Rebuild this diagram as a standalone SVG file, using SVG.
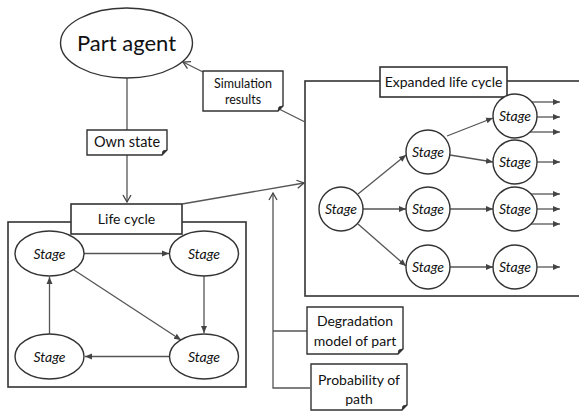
<svg xmlns="http://www.w3.org/2000/svg" width="579" height="412" viewBox="0 0 579 412">
  <defs>
    <marker id="arr" markerWidth="8" markerHeight="8" refX="7" refY="4" orient="auto" markerUnits="userSpaceOnUse">
      <path d="M0,1 L7,4 L0,7 Z" fill="#444"/>
    </marker>
    <marker id="arrOpen" markerWidth="10" markerHeight="10" refX="8" refY="5" orient="auto" markerUnits="userSpaceOnUse">
      <path d="M1,1 L8,5 L1,9" fill="none" stroke="#444" stroke-width="1.3"/>
    </marker>
  </defs>
  <style>
    .frame { fill: #fff; stroke: #333; stroke-width: 1.6; }
    .node { fill: #fff; stroke: #333; stroke-width: 1.4; }
    .link { fill: none; stroke: #555; stroke-width: 1.3; }
    .lbl { font-family: Lato, "Open Sans", "Liberation Sans", sans-serif; fill: #111; text-anchor: middle; }
    .stage { font-family: Lato, "Open Sans", "Liberation Sans", sans-serif; font-style: italic; font-size: 14px; fill: #111; text-anchor: middle; }
  </style>
  <rect width="579" height="412" fill="#fff"/>

  <!-- frames -->
  <g id="expanded-frame">
    <rect class="frame" x="305" y="81" width="280" height="215"/>
    <rect class="frame" x="380" y="67" width="127" height="30"/>
    <text class="lbl" x="443.5" y="87" font-size="14">Expanded life cycle</text>
  </g>
  <g id="lifecycle-frame">
    <rect class="frame" x="8" y="222" width="238" height="165"/>
    <rect class="frame" x="71" y="204" width="111" height="30"/>
    <text class="lbl" x="126.5" y="224" font-size="14">Life cycle</text>
  </g>

  <!-- connectors -->
  <g id="connectors">
    <line class="link" x1="127" y1="78" x2="127" y2="202" marker-end="url(#arrOpen)"/>
    <line class="link" x1="203" y1="72" x2="183" y2="62" marker-end="url(#arrOpen)"/>
    <line class="link" x1="279" y1="109" x2="305" y2="122"/>
    <line class="link" x1="182" y1="204" x2="304" y2="183" marker-end="url(#arrOpen)"/>
    <polyline class="link" points="310,388 273,388 273,193" marker-end="url(#arrOpen)"/>
    <line class="link" x1="273" y1="331" x2="307" y2="331"/>

    <!-- life cycle loop -->
    <line class="link" x1="84" y1="253.5" x2="169" y2="253.5" marker-end="url(#arr)"/>
    <line class="link" x1="204" y1="276" x2="204" y2="333" marker-end="url(#arr)"/>
    <line class="link" x1="170" y1="356.5" x2="85" y2="356.5" marker-end="url(#arr)"/>
    <line class="link" x1="49.5" y1="334" x2="49.5" y2="277" marker-end="url(#arr)"/>
    <line class="link" x1="74" y1="270" x2="181" y2="340" marker-end="url(#arr)"/>

    <!-- expanded tree -->
    <line class="link" x1="358" y1="194" x2="406" y2="155" marker-end="url(#arr)"/>
    <line class="link" x1="363" y1="209" x2="406" y2="209" marker-end="url(#arr)"/>
    <line class="link" x1="358" y1="224" x2="406" y2="266" marker-end="url(#arr)"/>
    <line class="link" x1="447" y1="136" x2="493" y2="118" marker-end="url(#arr)"/>
    <line class="link" x1="450" y1="155" x2="493" y2="162" marker-end="url(#arr)"/>
    <line class="link" x1="450" y1="209" x2="493" y2="209" marker-end="url(#arr)"/>
    <line class="link" x1="450" y1="267" x2="493" y2="267" marker-end="url(#arr)"/>

    <line class="link" x1="530" y1="102" x2="560" y2="102" marker-end="url(#arr)"/>
    <line class="link" x1="537" y1="117" x2="560" y2="117" marker-end="url(#arr)"/>
    <line class="link" x1="530" y1="132" x2="560" y2="132" marker-end="url(#arr)"/>
    <line class="link" x1="537" y1="162" x2="560" y2="162" marker-end="url(#arr)"/>
    <line class="link" x1="530" y1="194" x2="560" y2="194" marker-end="url(#arr)"/>
    <line class="link" x1="537" y1="209" x2="560" y2="209" marker-end="url(#arr)"/>
    <line class="link" x1="530" y1="224" x2="560" y2="224" marker-end="url(#arr)"/>
    <line class="link" x1="537" y1="267" x2="560" y2="267" marker-end="url(#arr)"/>
  </g>

  <!-- part agent -->
  <g id="part-agent">
    <ellipse class="node" cx="126.5" cy="43" rx="66" ry="35"/>
    <text class="lbl" x="126.5" y="51" font-size="22">Part agent</text>
  </g>

  <!-- note boxes -->
  <g id="own-state">
    <path class="node" d="M87,130 H167 V150 L162,155 H87 Z"/>
    <path d="M167,150 L162,155 L163,151 Z" fill="#333" stroke="#333" stroke-width="1"/>
    <text class="lbl" x="127" y="147" font-size="14.5">Own state</text>
  </g>
  <g id="simulation-results">
    <path class="node" d="M203,71 H283 V106 L278,111 H203 Z"/>
    <path d="M283,106 L278,111 L279,107 Z" fill="#333" stroke="#333" stroke-width="1"/>
    <text class="lbl" x="243" y="88" font-size="12.5">Simulation</text>
    <text class="lbl" x="243" y="104" font-size="12.5">results</text>
  </g>
  <g id="degradation-model">
    <path class="node" d="M307,307 H403 V349 L398,354 H307 Z"/>
    <path d="M403,349 L398,354 L399,350 Z" fill="#333" stroke="#333" stroke-width="1"/>
    <text class="lbl" x="355" y="326" font-size="14">Degradation</text>
    <text class="lbl" x="355" y="346" font-size="14">model of part</text>
  </g>
  <g id="probability-of-path">
    <path class="node" d="M311,364 H407 V405 L402,410 H311 Z"/>
    <path d="M407,405 L402,410 L403,406 Z" fill="#333" stroke="#333" stroke-width="1"/>
    <text class="lbl" x="359" y="385" font-size="14">Probability of</text>
    <text class="lbl" x="359" y="404" font-size="14">path</text>
  </g>

  <!-- life cycle stages -->
  <g id="lc-stage-tl"><ellipse class="node" cx="49.5" cy="253.5" rx="34.5" ry="22.5"/><text class="stage" x="49.5" y="259" font-size="15">Stage</text></g>
  <g id="lc-stage-tr"><ellipse class="node" cx="204" cy="253.5" rx="34.5" ry="22.5"/><text class="stage" x="204" y="259" font-size="15">Stage</text></g>
  <g id="lc-stage-bl"><ellipse class="node" cx="49.5" cy="356.5" rx="34.5" ry="22.5"/><text class="stage" x="49.5" y="362" font-size="15">Stage</text></g>
  <g id="lc-stage-br"><ellipse class="node" cx="204" cy="356.5" rx="34.5" ry="22.5"/><text class="stage" x="204" y="362" font-size="15">Stage</text></g>

  <!-- expanded stages -->
  <g id="ex-stage-root"><circle class="node" cx="341" cy="209" r="22"/><text class="stage" x="341" y="214">Stage</text></g>
  <g id="ex-stage-a"><circle class="node" cx="428" cy="152" r="22"/><text class="stage" x="428" y="157">Stage</text></g>
  <g id="ex-stage-b"><circle class="node" cx="428" cy="209" r="22"/><text class="stage" x="428" y="214">Stage</text></g>
  <g id="ex-stage-c"><circle class="node" cx="428" cy="267" r="22"/><text class="stage" x="428" y="272">Stage</text></g>
  <g id="ex-stage-r1"><circle class="node" cx="515" cy="116" r="22"/><text class="stage" x="515" y="121">Stage</text></g>
  <g id="ex-stage-r2"><circle class="node" cx="515" cy="162" r="22"/><text class="stage" x="515" y="167">Stage</text></g>
  <g id="ex-stage-r3"><circle class="node" cx="515" cy="209" r="22"/><text class="stage" x="515" y="214">Stage</text></g>
  <g id="ex-stage-r4"><circle class="node" cx="515" cy="267" r="22"/><text class="stage" x="515" y="272">Stage</text></g>
</svg>
